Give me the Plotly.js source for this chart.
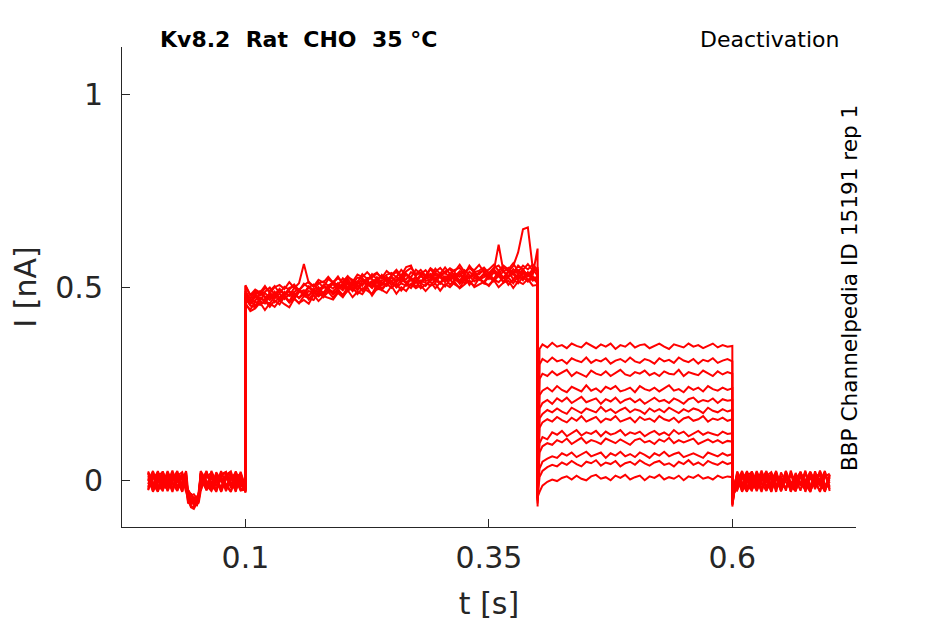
<!DOCTYPE html>
<html>
<head>
<meta charset="utf-8">
<script src="https://cdn.plot.ly/plotly-3.0.1.min.js"></script>
<style>
  html, body { margin: 0; padding: 0; background: #fff; }
  #graph { width: 945px; height: 624px; }
</style>
</head>
<body>
<div id="graph"></div>
<script>
// time bases for the four protocol segments [s]
var tPre = [0, .005, .01, .015, .02, .025, .03, .035, .039, .041, .044, .047, .05, .052, .054,
  .06, .065, .07, .075, .08, .085, .09, .095, .1];
var tStep = [.1, .105, .11, .115, .12, .125, .13, .135, .14, .145,
  .15, .155, .16, .165, .17, .175, .18, .185, .19, .195,
  .2, .205, .21, .215, .22, .225, .23, .235, .24, .245,
  .25, .255, .26, .265, .27, .275, .28, .285, .29, .295,
  .3, .305, .31, .315, .32, .325, .33, .335, .34, .345,
  .35, .355, .36, .365, .37, .375, .38, .385, .39, .395, .4];
var tDeact = [.4, .402, .405, .41, .415, .42, .425, .43, .435, .44, .445, .45, .455, .46, .465,
  .47, .475, .48, .485, .49, .495, .5, .505, .51, .515, .52, .525, .53, .535, .54, .545,
  .55, .555, .56, .565, .57, .575, .58, .585, .59, .595, .6];
var tPost = [.6, .602, .605, .61, .615, .62, .625, .63, .635, .64, .645, .65, .655, .66, .665,
  .67, .675, .68, .685, .69, .695, .7];

// currents in pA, one row per sweep
var pre = [
  [18, -22, 9, -28, 21, -12, 4, -30, 14, -42, -58, -50, -62, -44, 20, -18, 8, -26, 16, 22, -14, 6, -24, -22],
  [-26, 12, -8, 23, -18, -4, 19, -27, 7, -30, -48, -56, -46, -36, -12, 24, -20, 3, -29, 11, 18, -10, 15, -30],
  [8, -16, 24, -9, -25, 15, -20, 10, -30, -46, -62, -54, -66, -48, 16, -7, -28, 21, -2, -19, 13, -27, 22, -18],
  [-10, 22, -29, 6, -14, 20, -6, 17, -22, -26, -36, -58, -64, -32, -24, 9, 19, -16, 12, -28, 4, 20, -12, -26],
  [23, -5, -20, 14, -28, 2, 24, -17, 10, -50, -70, -74, -60, -46, 5, -25, 15, -8, 24, -13, -30, 9, 17, -32],
  [-20, 6, 16, -24, 3, -30, 11, 21, -9, -54, -34, -48, -42, -40, 24, -3, -22, 18, -26, 7, -15, 23, -6, -20],
  [4, -28, 13, 20, -11, 17, -26, -3, 24, -24, -52, -64, -58, -50, -18, 14, -8, -30, 10, 21, -20, 1, -27, -24],
  [-17, 19, -25, -2, 15, -21, 8, -29, 19, -60, -54, -44, -56, -28, 12, -22, 24, -4, -18, 17, -9, -25, 11, -16],
  [12, -9, -30, 22, -5, -24, 18, 6, -19, -38, -60, -56, -62, -58, -28, 20, -11, 7, -23, 14, 23, -16, 3, -28],
  [-3, 24, -14, -26, 9, 11, -18, -8, 21, -52, -66, -70, -54, -38, 8, -14, -27, 16, -1, -24, 10, -30, 19, -20],
  [20, -30, 1, -12, 24, -7, -28, 15, -15, -26, -40, -36, -48, -54, -6, 22, -17, -25, 6, -9, -29, 18, -21, -26],
  [-24, 3, 21, -18, -7, 25, -13, -22, 5, -56, -50, -62, -64, -52, 18, -26, -4, 10, -30, 2, 16, -19, -8, -24]
];

var step = [
  [505, 480, 494, 486, 503, 484, 500, 506, 495, 513,
   498, 510, 560, 511, 502, 519, 512, 527, 512, 523,
   514, 529, 514, 533, 526, 539, 525, 536, 524, 542,
   531, 545, 529, 541, 550, 534, 545, 530, 549, 540,
   550, 535, 549, 541, 558, 539, 550, 544, 558, 538,
   546, 558, 542, 556, 546, 562, 540, 556, 546, 559, 545],
  [490, 470, 489, 480, 488, 499, 481, 496, 480, 498,
   502, 491, 509, 499, 492, 509, 515, 503, 514, 504,
   523, 512, 507, 525, 522, 514, 534, 520, 530, 515,
   531, 539, 524, 520, 539, 531, 538, 525, 547, 531,
   529, 541, 547, 528, 541, 534, 551, 537, 533, 547,
   536, 547, 533, 551, 541, 555, 590, 650, 655, 550, 540],
  [485, 463, 482, 490, 472, 483, 478, 494, 483, 478,
   498, 490, 481, 500, 507, 493, 504, 494, 512, 506,
   503, 521, 504, 515, 504, 524, 521, 511, 532, 518,
   528, 514, 525, 535, 522, 516, 534, 531, 523, 538,
   528, 539, 522, 537, 527, 544, 531, 525, 539, 542,
   529, 542, 610, 540, 528, 547, 534, 546, 528, 541, 545],
  [474, 457, 476, 466, 485, 473, 486, 470, 484, 489,
   476, 490, 483, 501, 484, 496, 484, 505, 496, 511,
   497, 515, 495, 512, 506, 518, 503, 526, 513, 508,
   525, 513, 530, 510, 524, 515, 528, 521, 534, 512,
   529, 518, 536, 524, 517, 534, 524, 541, 523, 532,
   521, 538, 528, 541, 527, 536, 544, 526, 539, 532, 600],
  [474, 455, 476, 463, 458, 478, 471, 483, 469, 482,
   469, 487, 492, 479, 489, 479, 503, 490, 487, 504,
   500, 493, 512, 491, 510, 509, 498, 517, 506, 521,
   506, 517, 530, 552, 556, 525, 509, 527, 516, 525,
   511, 528, 520, 533, 517, 511, 528, 533, 520, 526,
   534, 516, 530, 523, 540, 521, 533, 518, 538, 526, 522],
  [470, 452, 448, 470, 465, 457, 478, 465, 476, 462,
   481, 473, 487, 468, 485, 476, 487, 496, 481, 494,
   480, 500, 491, 506, 491, 501, 512, 494, 509, 503,
   516, 499, 510, 504, 522, 500, 517, 511, 504, 520,
   511, 524, 506, 520, 511, 528, 506, 523, 521, 512,
   526, 515, 531, 512, 525, 510, 530, 521, 534, 517, 525],
  [455, 442, 463, 454, 465, 449, 466, 455, 476, 460,
   471, 458, 477, 472, 467, 487, 474, 488, 473, 489,
   479, 490, 500, 482, 497, 491, 483, 505, 492, 509,
   498, 510, 491, 507, 498, 517, 497, 507, 514, 497,
   513, 502, 520, 507, 499, 519, 514, 503, 524, 509,
   506, 520, 513, 526, 506, 520, 510, 526, 514, 524, 510],
  [459, 438, 445, 460, 441, 458, 449, 466, 456, 448,
   470, 459, 467, 457, 480, 464, 477, 472, 468, 485,
   474, 492, 474, 488, 482, 500, 478, 496, 493, 485,
   503, 483, 500, 490, 508, 497, 505, 490, 504, 509,
   491, 508, 500, 513, 497, 507, 518, 500, 506, 514,
   503, 519, 500, 512, 517, 498, 515, 508, 521, 504, 506],
  [503, 478, 489, 479, 498, 490, 503, 484, 501, 494,
   507, 492, 505, 514, 501, 513, 499, 521, 512, 528,
   509, 526, 519, 512, 534, 521, 530, 538, 522, 532,
   537, 526, 545, 531, 526, 545, 534, 544, 527, 548,
   534, 551, 534, 545, 550, 532, 556, 539, 543, 551,
   536, 550, 556, 540, 550, 536, 556, 545, 560, 543, 549],
  [480, 459, 482, 471, 467, 485, 473, 493, 480, 490,
   476, 493, 484, 502, 492, 487, 505, 495, 514, 496,
   510, 497, 516, 507, 522, 506, 513, 522, 505, 527,
   515, 527, 512, 534, 517, 526, 513, 530, 534, 519,
   537, 523, 532, 517, 536, 522, 540, 529, 522, 536,
   527, 544, 531, 525, 542, 537, 524, 544, 531, 546, 530],
  [462, 466, 452, 473, 464, 479, 461, 474, 480, 463,
   486, 471, 483, 477, 495, 484, 478, 496, 488, 502,
   492, 509, 490, 504, 491, 510, 499, 515, 496, 510,
   515, 501, 521, 510, 506, 525, 510, 503, 521, 519,
   509, 525, 518, 529, 509, 524, 529, 515, 524, 513,
   534, 519, 530, 514, 528, 534, 518, 538, 518, 527, 520],
  [473, 460, 465, 482, 476, 467, 488, 472, 488, 478,
   488, 495, 477, 490, 484, 500, 483, 500, 508, 493,
   508, 498, 506, 496, 516, 506, 516, 500, 517, 525,
   505, 519, 525, 512, 520, 511, 532, 516, 520, 532,
   525, 513, 532, 521, 536, 520, 524, 538, 519, 533,
   533, 521, 542, 524, 529, 540, 521, 537, 535, 521, 528]
];

var deact = [
  [-68, 340, 352, 344, 356, 346, 350, 342, 354, 348, 344, 356, 348, 342, 352, 346, 354, 340, 350, 346, 356,
   344, 350, 352, 342, 348, 354, 346, 340, 352, 348, 344, 354, 346, 350, 342, 348, 354, 344, 350, 346, 348],
  [-60, 300, 314, 306, 318, 308, 312, 302, 316, 310, 306, 318, 304, 312, 308, 316, 302, 310, 314, 306, 318,
   308, 304, 314, 310, 302, 316, 308, 312, 304, 318, 310, 306, 314, 302, 312, 308, 316, 304, 310, 314, 308],
  [-55, 262, 276, 270, 282, 272, 278, 286, 270, 280, 274, 268, 284, 276, 272, 282, 270, 278, 286, 274, 270,
   280, 276, 284, 272, 278, 270, 282, 276, 274, 286, 270, 280, 276, 272, 284, 278, 270, 282, 274, 280, 276],
  [-52, 220, 232, 240, 230, 244, 234, 228, 242, 236, 230, 246, 232, 238, 228, 242, 236, 244, 230, 234, 240,
   228, 244, 236, 232, 240, 230, 238, 246, 232, 236, 228, 242, 234, 240, 230, 244, 236, 232, 240, 234, 238],
  [-50, 186, 200, 208, 198, 212, 204, 214, 200, 208, 216, 202, 206, 212, 198, 210, 204, 214, 200, 208, 212,
   202, 210, 198, 206, 214, 204, 208, 200, 212, 206, 198, 210, 214, 202, 208, 204, 212, 200, 210, 206, 208],
  [-48, 160, 172, 182, 176, 186, 178, 172, 188, 180, 174, 186, 182, 176, 190, 178, 184, 174, 182, 188, 176,
   184, 180, 172, 186, 178, 184, 176, 188, 180, 174, 184, 178, 186, 182, 174, 188, 180, 176, 184, 178, 182],
  [-46, 136, 150, 158, 152, 164, 156, 150, 162, 154, 166, 152, 158, 164, 150, 160, 156, 166, 152, 158, 162,
   150, 164, 156, 160, 152, 166, 158, 154, 162, 150, 160, 164, 154, 158, 166, 152, 160, 156, 162, 154, 158],
  [-45, 96, 112, 106, 124, 118, 128, 114, 122, 130, 116, 124, 120, 128, 114, 126, 118, 122, 130, 116, 124,
   120, 126, 114, 122, 128, 118, 124, 116, 130, 120, 126, 114, 122, 128, 118, 124, 120, 116, 126, 120, 122],
  [-44, 72, 88, 96, 92, 104, 98, 108, 94, 102, 110, 96, 104, 100, 94, 108, 102, 96, 106, 100, 92,
   104, 108, 98, 102, 94, 106, 100, 110, 96, 104, 98, 102, 108, 94, 100, 106, 98, 104, 96, 102, 100],
  [-44, 30, 48, 56, 62, 58, 70, 64, 72, 60, 68, 74, 62, 66, 72, 58, 70, 64, 74, 62, 68,
   60, 72, 66, 58, 70, 64, 74, 62, 68, 72, 60, 66, 70, 64, 58, 72, 66, 62, 70, 64, 68],
  [-44, 8, 24, 34, 40, 36, 46, 40, 50, 42, 36, 48, 44, 52, 38, 46, 42, 50, 36, 44, 48,
   40, 52, 44, 38, 46, 50, 40, 44, 36, 48, 42, 52, 40, 46, 38, 50, 44, 40, 48, 42, 46],
  [-44, -30, -14, -4, 2, -2, 6, 10, 2, 12, 4, 0, 10, 14, 4, 8, 0, 12, 6, 14, 2,
   8, 12, 0, 10, 6, 14, 2, 8, 4, 12, 0, 10, 6, 14, 4, 8, 2, 12, 6, 10, 8]
];

var post = [
  [-62, -28, 18, -22, 9, -28, 21, -12, 4, -30, 14, -18, 24, -8, -26, 12, -3, 22, -20, 6, -29, 15],
  [-50, -20, -26, 12, -8, 23, -18, -4, 19, -27, 7, -14, 16, -30, 3, 20, -11, -24, 10, -6, 24, -17],
  [-56, -14, 8, -16, 24, -9, -25, 15, -20, 10, -30, 20, -5, -22, 13, -12, 25, -28, 1, 17, -19, 7],
  [-46, -30, -10, 22, -29, 6, -14, 20, -6, 17, -22, -2, 11, -26, 19, -15, 4, -30, 14, -7, 21, -23],
  [-68, -24, 23, -5, -20, 14, -28, 2, 24, -17, 10, -26, 18, -11, -3, 22, -30, 8, -16, 25, -9, -21],
  [-48, -18, -20, 6, 16, -24, 3, -30, 11, 21, -9, -15, 24, -27, -1, 13, -19, 20, -6, -28, 9, 17],
  [-54, -12, 4, -28, 13, 20, -11, 17, -26, -3, 24, -20, 8, -14, -29, 18, -5, 12, -23, 23, -16, 2],
  [-60, -26, -17, 19, -25, -2, 15, -21, 8, -29, 19, -10, -22, 14, 3, -27, 21, -13, -4, 16, -30, 10],
  [-46, -8, 12, -9, -30, 22, -5, -24, 18, 6, -19, 11, -27, 25, -12, -6, 19, -25, 2, -15, 20, -28],
  [-54, -22, -3, 24, -14, -26, 9, 11, -18, -8, 21, -29, 5, -20, 16, -10, -24, 22, -2, -30, 13, -7],
  [-50, -16, 20, -30, 1, -12, 24, -7, -28, 15, -15, 4, -21, 18, -26, 9, -4, -17, 23, -11, -27, 14],
  [-64, -32, -24, 3, 21, -18, -7, 25, -13, -22, 5, -27, 14, -3, -19, 22, -9, -30, 7, 19, -14, -5]
];

var xTickVals = [0.1, 0.35, 0.6];
var xTickText = ['0.1', '0.35', '0.6'];
var yTickVals = [0, 0.5, 1];
var yTickText = ['0', '0.5', '1'];

var font = 'DejaVu Sans, sans-serif';
var axisColor = '#262626';

var tAll = tPre.concat(tStep, tDeact, tPost);
var data = pre.map(function (p, k) {
  var pA = p.concat(step[k], deact[k], post[k]);
  return {
    x: tAll,
    y: pA.map(function (v) { return v / 1000; }),
    mode: 'lines',
    type: 'scatter',
    line: {color: '#ff0000', width: 2},
    hoverinfo: 'skip'
  };
});

var layout = {
  width: 945,
  height: 624,
  margin: {l: 122, r: 89, t: 47, b: 97},
  paper_bgcolor: '#ffffff',
  plot_bgcolor: '#ffffff',
  showlegend: false,
  font: {family: font, color: axisColor},
  xaxis: {
    range: [-0.0268, 0.727],
    tickvals: xTickVals,
    ticktext: xTickText,
    ticks: 'inside',
    ticklen: 8,
    tickwidth: 1,
    tickcolor: axisColor,
    showline: true,
    linecolor: axisColor,
    linewidth: 1,
    showgrid: false,
    zeroline: false,
    tickfont: {family: font, size: 30, color: axisColor},
    ticklabelstandoff: 4,
    title: {text: 't [s]', font: {family: font, size: 30, color: axisColor}, standoff: 18}
  },
  yaxis: {
    range: [-0.121, 1.122],
    tickvals: yTickVals,
    ticktext: yTickText,
    ticks: 'inside',
    ticklen: 8,
    tickwidth: 1,
    tickcolor: axisColor,
    showline: true,
    linecolor: axisColor,
    linewidth: 1,
    showgrid: false,
    zeroline: false,
    tickfont: {family: font, size: 30, color: axisColor},
    ticklabelstandoff: 12,
    title: {text: 'I [nA]', font: {family: font, size: 30, color: axisColor}, standoff: 9}
  },
  annotations: [
    {
      text: '<b>Kv8.2\u00a0\u00a0Rat\u00a0\u00a0CHO\u00a0\u00a035 °C</b>',
      xref: 'paper', yref: 'paper', x: 0.049, y: 1.0155,
      xanchor: 'left', yanchor: 'middle', showarrow: false,
      font: {family: font, size: 22, color: '#000000'}
    },
    {
      text: 'Deactivation',
      xref: 'paper', yref: 'paper', x: 0.98, y: 1.0155,
      xanchor: 'right', yanchor: 'middle', showarrow: false,
      font: {family: font, size: 22, color: '#000000'}
    },
    {
      text: 'BBP Channelpedia ID 15191 rep 1',
      xref: 'paper', yref: 'paper', x: 0.991, y: 0.4987,
      xanchor: 'center', yanchor: 'middle', textangle: -90, showarrow: false,
      font: {family: font, size: 21.6, color: '#000000'}
    }
  ]
};

Plotly.newPlot('graph', data, layout, {displayModeBar: false, staticPlot: true});
</script>
</body>
</html>
